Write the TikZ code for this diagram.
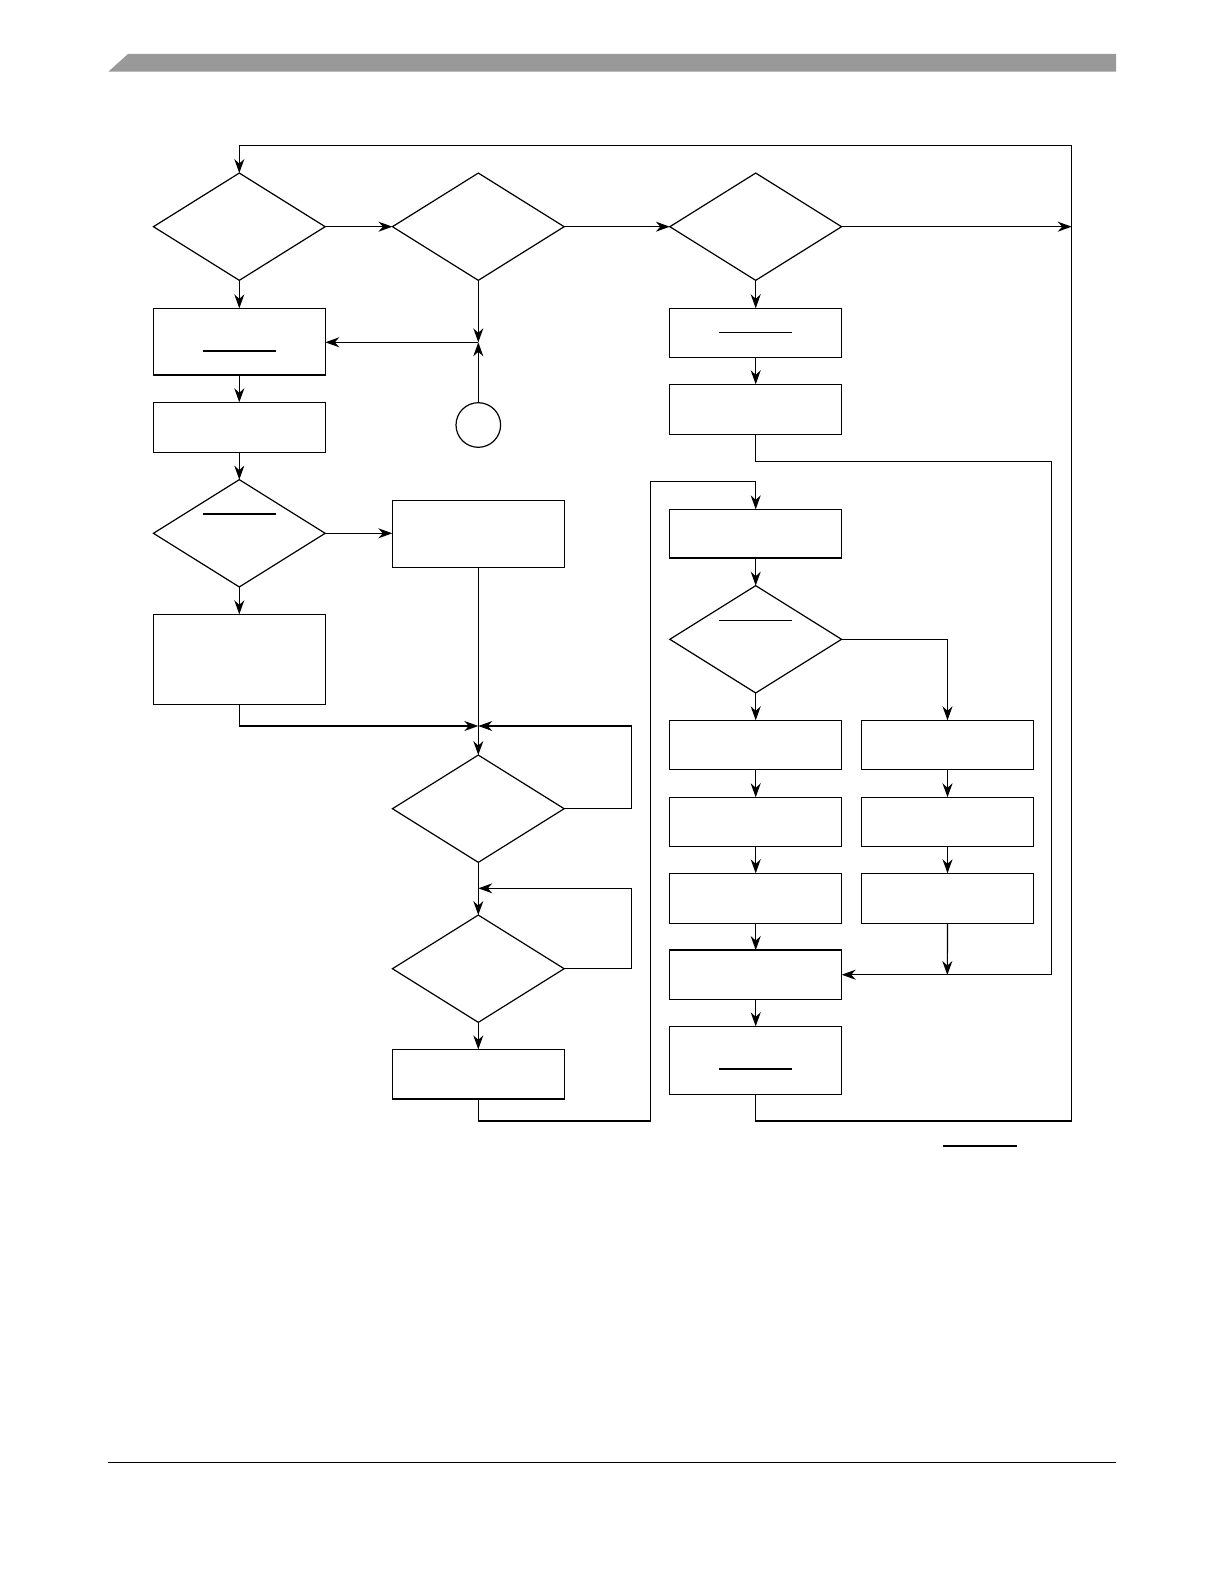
\documentclass[tikz,border=0pt]{standalone}
\usepackage{tikz}
\usetikzlibrary{positioning,arrows.meta,shapes.geometric,calc}

\tikzset{
  decision/.style={diamond, draw, line width=1.2pt, inner sep=0pt, outer sep=0pt,
    minimum width=171.7pt, minimum height=107.3pt},
  block/.style={rectangle, draw, line width=1.2pt, inner sep=0pt, outer sep=0pt,
    minimum width=172pt},
  conn/.style={circle, draw, line width=1.2pt, inner sep=0pt, outer sep=0pt,
    minimum size=44.6pt},
  flow/.style={line width=1.2pt, -{Stealth[length=14pt,width=10pt,inset=4.5pt]}},
  wire/.style={line width=1.2pt},
  bar/.style={line width=1.2pt}
}

\begin{document}
\begin{tikzpicture}[x=1pt,y=-1pt]
  \useasboundingbox (0,0) rectangle (1224,1584);
  % page header and footer
  \fill[black!40] (108.3,71.7) -- (128,54) -- (1116,54) -- (1116,71.7) -- cycle;
  \draw[line width=1.3pt] (108,1462.5) -- (1116,1462.5);
  \draw[line width=2.2pt] (942.7,1145.7) -- (1017.3,1145.7);

  % decisions
  \node[decision] (d1) at (239.3,226.7) {};
  \node[decision] (d2) at (478.3,226.7) {};
  \node[decision] (d3) at (755.7,226.7) {};
  \node[decision] (d4) at (239.3,533.3) {};
  \node[decision] (d5) at (478.3,808.7) {};
  \node[decision] (d6) at (478.3,968.7) {};
  \node[decision] (d7) at (755.7,639.3) {};

  % left branch
  \node[block, minimum height=66.7pt] (b1) at (239.3,341.7) {};
  \node[block, minimum height=50pt]   (b2) at (239.3,427.3) {};
  \node[block, minimum height=67pt]   (b5) at (478.3,533.8) {};
  \node[block, minimum height=90pt]   (b6) at (239.3,659.3) {};
  \node[block, minimum height=49.7pt] (b7) at (478.3,1074.2) {};
  \node[conn] (c1) at (478.3,425) {};

  % right branch
  \node[block, minimum height=49pt]   (b3) at (755.7,332.8) {};
  \node[block, minimum height=50pt]   (b4) at (755.7,409.3) {};
  \node[block, minimum height=48.7pt] (b8) at (755.7,533.7) {};
  \node[block, minimum height=49pt]   (l1) at (755.7,744.8) {};
  \node[block, minimum height=49pt]   (l2) at (755.7,821.8) {};
  \node[block, minimum height=50pt]   (l3) at (755.7,898.3) {};
  \node[block, minimum height=49.3pt] (l4) at (755.7,974.7) {};
  \node[block, minimum height=68pt]   (l5) at (755.7,1060.3) {};
  \node[block, minimum height=49pt]   (r1) at (947.5,744.8) {};
  \node[block, minimum height=49pt]   (r2) at (947.5,821.8) {};
  \node[block, minimum height=50pt]   (r3) at (947.5,898.3) {};

  % overbars
  \draw[bar] ($(b1.center)+(-36.7,9.3)$) -- ++(73.4,0);
  \draw[bar] ($(d4.center)+(-36.7,-19.3)$) -- ++(73.4,0);
  \draw[bar] ($(b3.center)+(-36.7,-0.5)$) -- ++(73.4,0);
  \draw[bar] ($(d7.center)+(-36.7,-19)$) -- ++(73.4,0);
  \draw[bar] ($(l5.center)+(-36.7,8.7)$) -- ++(73.4,0);

  % junctions
  \coordinate (j1) at (478.3,342.3);
  \coordinate (j2) at (478.3,726);
  \coordinate (j3) at (478.3,888.3);
  \coordinate (j4) at (947.3,975);
  \coordinate (ex) at (1071.7,226.7);

  % connectors, top row
  \draw[flow] (d1) -- (d2);
  \draw[flow] (d2) -- (d3);
  \draw[flow] (d3) -- (ex);
  \draw[flow] (d2) -- (j1);
  \draw[flow] (c1) -- (j1);
  \draw[flow] (j1) -- (j1 -| b1.east);

  % left column
  \draw[flow] (d1) -- (b1);
  \draw[flow] (b1) -- (b2);
  \draw[flow] (b2) -- (d4);
  \draw[flow] (d4) -- (d4 -| b5.west);
  \draw[flow] (d4) -- (b6);
  \draw[flow] (b6.south) |- (j2);
  \draw[flow] (b5) -- (d5);
  \draw[flow] (d5.east) -- (631.3,808.7) |- (j2);
  \draw[flow] (d5) -- (d6);
  \draw[flow] (d6.east) -- (631.3,968.7) |- (j3);
  \draw[flow] (d6) -- (b7);
  \draw[flow] (b7.south) -- (478.3,1121) -| (650.7,481.7) -| (b8.north);

  % right column
  \draw[flow] (d3) -- (b3);
  \draw[flow] (b3) -- (b4);
  \draw[flow] (b4.south) |- (1051.7,461.7) |- (l4.east);
  \draw[flow] (b8) -- (d7);
  \draw[flow] (d7) -- (l1);
  \draw[flow] (d7.east) -| (r1.north);
  \draw[flow] (l1) -- (l2);
  \draw[flow] (l2) -- (l3);
  \draw[flow] (l3) -- (l4);
  \draw[flow] (l4) -- (l5);
  \draw[flow] (r1) -- (r2);
  \draw[flow] (r2) -- (r3);
  \draw[flow] (r3.south) -- (j4);
  \draw[flow] (l5.south) |- (1071.7,1121) |- (239.3,145.3) -- (d1.north);
\end{tikzpicture}
\end{document}
